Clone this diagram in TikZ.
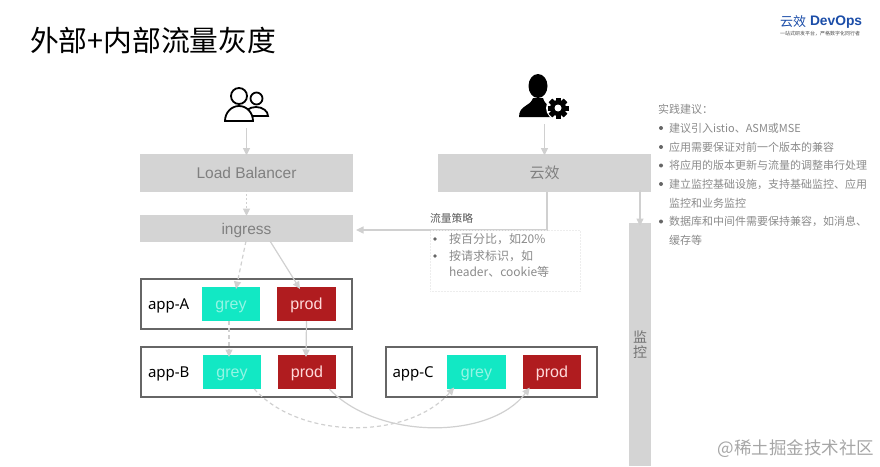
\documentclass[tikz,border=0pt]{standalone}
\usepackage{fontspec}
\setmainfont{Noto Sans CJK SC}
\newfontfamily\latinfont{Liberation Sans}
\newfontfamily\appfont{Noto Sans}
\usetikzlibrary{arrows.meta}
\newcommand{\fsz}[1]{\fontsize{#1}{#1}\selectfont}
\definecolor{boxgrey}{HTML}{D4D4D4}
\definecolor{linegrey}{HTML}{D0D0D0}
\definecolor{framegrey}{HTML}{666666}
\definecolor{textgrey}{HTML}{808080}
\definecolor{notegrey}{HTML}{8A8A8A}
\definecolor{greyteal}{HTML}{12E8C4}
\definecolor{prodred}{HTML}{B01C1F}
\definecolor{logoblue}{HTML}{1B4DA8}
\tikzset{
    box/.style={inner sep=0pt,outer sep=0pt},
    greybox/.style={box,fill=boxgrey,text=textgrey,minimum width=213pt,text height=13pt,text depth=2pt},
    appbox/.style={box,draw=framegrey,line width=1.5pt,minimum height=50pt},
    greynode/.style={box,fill=greyteal,text=greyteal!45!white,minimum width=58.5pt,minimum height=34pt,text height=13pt,text depth=2pt,font=\latinfont\fsz{16}},
    prodnode/.style={box,fill=prodred,text=red!15!white,minimum width=58.5pt,minimum height=34pt,text height=13pt,text depth=2pt,font=\latinfont\fsz{16}},
    applabel/.style={box,anchor=west,text height=13pt,text depth=2pt,font=\appfont\fsz{15}},
    tiptext/.style={box,anchor=west,text=notegrey,font=\fsz{11}},
    notetext/.style={box,anchor=west,text=notegrey,font=\fsz{12}},
    bulletdot/.style={fill=framegrey},
    flow/.style={draw=linegrey,line width=1.2pt,-{Triangle[length=7.5pt,width=7pt]}},
    flowdash/.style={flow,dash pattern=on 4pt off 3pt},
    flowdot/.style={flow,dash pattern=on 1.5pt off 2.5pt},
    icon/.style={draw=black,line width=1.8pt,fill=white},
}
\begin{document}
\begin{tikzpicture}[x=1pt,y=-1pt]
\useasboundingbox (0,0) rectangle (880,466);

\node[box,anchor=west,font=\fsz{28.8}] (title) at (30,41) {外部+内部流量灰度};
\node[box,anchor=west,text=logoblue,font=\fsz{13}] (logocn) at (780,22) {云效};
\node[box,anchor=west,text=logoblue,font=\latinfont\bfseries\fsz{13.8}] (logoen) at (810,22) {DevOps};
\node[box,anchor=west,text=black!70,font=\fsz{5}] (logosub) at (780,33.5) {一站式研发平台，严格数字化同行者};

% icons
\draw[icon] (244,116) arc (180:360:12 and 9) -- cycle;
\draw[icon] (256.5,98.5) circle (6);
\draw[icon] (225,121) arc (180:360:14 and 15) -- cycle;
\draw[icon] (239,96) circle (8);
\coordinate (users) at (246.5,128);

\fill (538,86) ellipse (9.5 and 12);
\fill (519,117) .. controls (519,105) and (530,107) .. (533,98) -- (543,98)
    .. controls (545,106) and (553,106) .. (555,117) -- cycle;
\fill[white] (558,108) circle (12);
\foreach \a in {0,45,...,315}
    \fill[rotate around={\a:(558,108)}] (555.5,97.5) rectangle (560.5,118.5);
\fill (558,108) circle (8);
\fill[white] (558,108) circle (3.5);
\coordinate (admin) at (544.5,124);

\node[greybox,minimum height=38pt,font=\latinfont\fsz{15.5}] (lb) at (246.5,173) {Load Balancer};
\node[greybox,minimum height=27pt,font=\latinfont\fsz{15.5}] (ingress) at (246.5,228.5) {ingress};
\node[greybox,minimum height=38pt,font=\fsz{15}] (yunxiao) at (544.5,173) {云效};
\node[box,fill=boxgrey,text=black!55,minimum width=22pt,minimum height=243pt,align=center,font=\fontsize{14}{15}\selectfont] (monitor) at (640,344.5) {监\\控};

\node[appbox,minimum width=211pt] (appa) at (246.5,304) {};
\node[appbox,minimum width=211pt] (appb) at (246.5,372) {};
\node[appbox,minimum width=211pt] (appc) at (491.5,372) {};
\node[applabel] (labela) at (148,304) {app-A};
\node[applabel] (labelb) at (148,372) {app-B};
\node[applabel] (labelc) at (392.5,372) {app-C};
\node[greynode] (greya) at (231,304) {grey};
\node[prodnode] (proda) at (306.5,304) {prod};
\node[greynode] (greyb) at (232,372) {grey};
\node[prodnode] (prodb) at (307,372) {prod};
\node[greynode] (greyc) at (476.5,372) {grey};
\node[prodnode] (prodc) at (552,372) {prod};

\draw[flow] (users) -- ([yshift=-1.5pt]lb.north);
\draw[flow] (admin) -- ([yshift=-1.5pt]yunxiao.north);
\draw[flowdot] ([yshift=2pt]lb.south) -- ([yshift=-1pt]ingress.north);
\draw[flowdash] ([yshift=1pt,xshift=-0.5pt]ingress.south) -- ([yshift=-2pt,xshift=5pt]greya.north);
\draw[flow] ([yshift=1pt,xshift=23.5pt]ingress.south) -- ([yshift=-2pt,xshift=-6.5pt]proda.north);
\draw[flowdash] ([xshift=-2pt]greya.south) -- ([xshift=-3pt,yshift=-2pt]greyb.north);
\draw[flow] (proda.south) -- ([xshift=-1pt,yshift=-2pt]prodb.north);
\draw[flow] ([xshift=2.5pt]yunxiao.south) |- ([xshift=3pt,yshift=-1.5pt]ingress.east);
\draw[flow] ([xshift=95.5pt,yshift=2pt]yunxiao.south) -- ([yshift=-3pt]monitor.north);
\draw[flowdash] ([xshift=-7pt]greyb.south east) .. controls (300,440) and (408,440) .. ([xshift=7pt,yshift=1.5pt]greyc.south west);
\draw[flow] ([xshift=-7pt]prodb.south east) .. controls (378,440) and (490,440) .. ([xshift=7pt,yshift=1.5pt]prodc.south west);

\node[box,anchor=west,text=black!65,font=\fsz{10.8}] (policy) at (430,218) {流量策略};
\node[box,draw=black!7,densely dotted,line width=0.5pt,minimum width=150pt,minimum height=61pt] (note) at (505,260.5) {};
\node[notetext] (note1) at (449,239) {按百分比，如20\%};
\node[notetext] (note2) at (449,256) {按请求标识，如};
\node[notetext] (note3) at (449,272) {header、cookie等};
\fill[bulletdot] (435,239) circle (1.8) (435,256) circle (1.8);

\node[tiptext] (tiphead) at (658,109) {实践建议：};
\node[tiptext] (tip1) at (669,128) {建议引入istio、ASM或MSE};
\node[tiptext] (tip2) at (669,147) {应用需要保证对前一个版本的兼容};
\node[tiptext] (tip3) at (669,165.5) {将应用的版本更新与流量的调整串行处理};
\node[tiptext] (tip4) at (669,184) {建立监控基础设施，支持基础监控、应用};
\node[tiptext] (tip5) at (669,203) {监控和业务监控};
\node[tiptext] (tip6) at (669,221.5) {数据库和中间件需要保持兼容，如消息、};
\node[tiptext] (tip7) at (669,240) {缓存等};
\foreach \y in {128,147,165.5,184,221.5}
    \fill[bulletdot] (661,\y) circle (2);

\node[box,anchor=east,text=black!35,font=\fsz{17.5}] (mark) at (874,449) {@稀土掘金技术社区};
\end{tikzpicture}
\end{document}
